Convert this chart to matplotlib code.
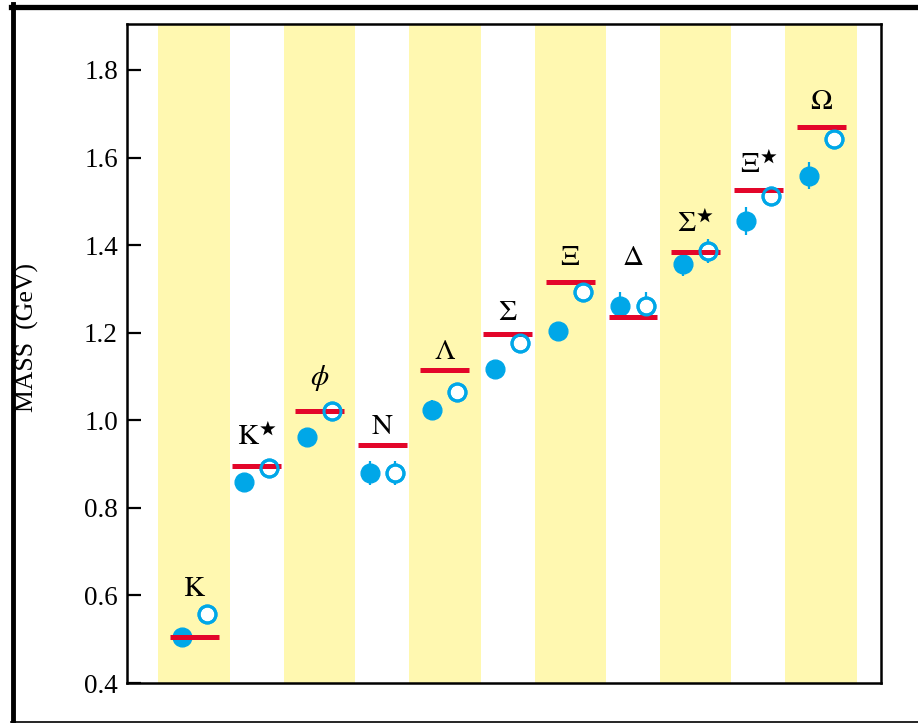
import matplotlib
matplotlib.use("Agg")
import matplotlib.pyplot as plt
from matplotlib.lines import Line2D

plt.rcParams['font.family'] = 'serif'
plt.rcParams['font.serif'] = ['Liberation Serif', 'DejaVu Serif']
plt.rcParams['mathtext.fontset'] = 'stix'

# hadron masses (GeV)
particles = [r'$\mathrm{K}$', r'$\mathrm{K}^{\bigstar}$', r'$\phi$', r'$\mathrm{N}$',
             r'$\Lambda$', r'$\Sigma$', r'$\Xi$', r'$\Delta$',
             r'$\Sigma^{\bigstar}$', r'$\Xi^{\bigstar}$', r'$\Omega$']
experiment = [0.505, 0.895, 1.021, 0.943, 1.114, 1.197, 1.316, 1.235, 1.385, 1.527, 1.670]
filled_mass = [0.505, 0.858, 0.961, 0.880, 1.023, 1.117, 1.204, 1.262, 1.356, 1.456, 1.559]
filled_err = [0, 0, 0, 0.027, 0.023, 0, 0, 0.032, 0.027, 0.032, 0.030]
open_mass = [0.558, 0.890, 1.021, 0.880, 1.064, 1.176, 1.292, 1.262, 1.387, 1.512, 1.643]
open_err = [0, 0, 0, 0.027, 0, 0, 0, 0.032, 0.028, 0, 0]
label_y = [0.598, 0.943, 1.081, 0.968, 1.141, 1.228, 1.354, 1.354, 1.431, 1.564, 1.712]

yellow = '#fff8b0'
blue = '#00a7e8'
red = '#e3062a'

x = list(range(len(particles)))
xf = [i - 0.2 for i in x]
xo = [i + 0.2 for i in x]

fig = plt.figure(figsize=(9.18, 7.23), dpi=100)
ax = fig.add_axes([0.1383, 0.0553, 0.8214, 0.9115])

for i in x:
    if i % 2 == 0:
        ax.axvspan(i - 0.57, i + 0.57, color=yellow, lw=0, zorder=0)

ax.errorbar(xf, filled_mass, yerr=filled_err, fmt='o', color=blue, ms=13.5,
            elinewidth=1.6, capsize=0, zorder=2)
ax.errorbar(xo, open_mass, yerr=open_err, fmt='o', color=blue, mfc='white',
            mec=blue, mew=2.2, ms=12.2, elinewidth=1.6, capsize=0, zorder=2)
ax.hlines(experiment, [i - 0.39 for i in x], [i + 0.39 for i in x],
          color=red, lw=3.6, zorder=3)
ax.plot(xo, open_mass, 'o', mfc='none', mec=blue, mew=2.2, ms=12.2, zorder=4)

for i, lab in enumerate(particles):
    ax.text(i, label_y[i], lab, ha='center', va='baseline', fontsize=21, zorder=5)

ax.set_xlim(-1.07, 10.955)
ax.set_ylim(0.4, 1.905)
ax.set_yticks([0.4, 0.6, 0.8, 1.0, 1.2, 1.4, 1.6, 1.8])
ax.set_yticklabels(['0.4', '0.6', '0.8', '1.0', '1.2', '1.4', '1.6', '1.8'])
ax.set_xticks([])
ax.tick_params(axis='y', direction='in', length=10, width=1.6, pad=6.5, labelsize=19.5)
for s in ax.spines.values():
    s.set_linewidth(1.8)

ax.set_ylabel('MASS  (GeV)', fontsize=18.5)
ax.yaxis.set_label_coords(-0.116, 0.525)

# outer frame (cropped on the right)
W, H = 918, 723
fig.add_artist(Line2D([13 / W, 13 / W], [1 - 4 / H, 1 - 722 / H], color='black', lw=3.5,
                      transform=fig.transFigure))
fig.add_artist(Line2D([11 / W, 1.0], [1 - 6.5 / H, 1 - 6.5 / H], color='black', lw=3.8,
                      transform=fig.transFigure))
fig.add_artist(Line2D([11 / W, 1.0], [1 - 722 / H, 1 - 722 / H], color='black', lw=1.2,
                      transform=fig.transFigure))

fig.savefig('out.png', dpi=100)
